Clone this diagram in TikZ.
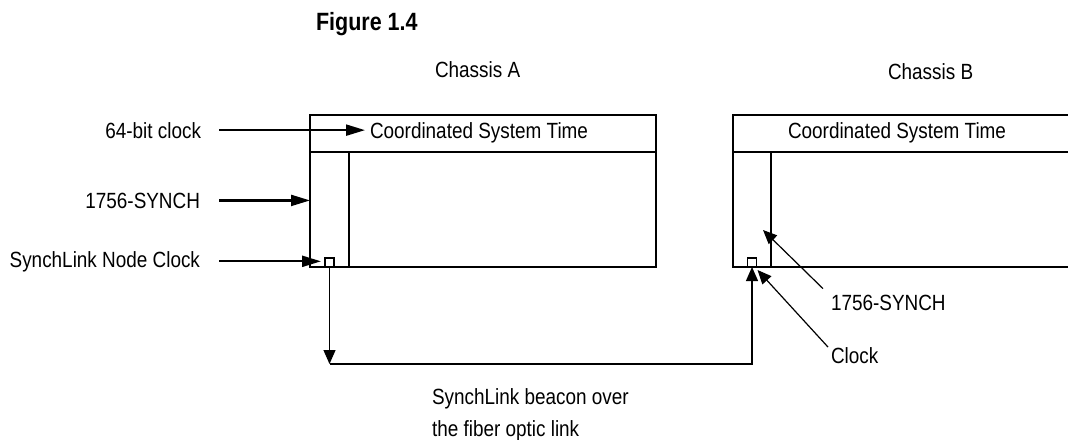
\documentclass[tikz,border=0pt]{standalone}
\usepackage{fontspec}
\setmainfont{Liberation Sans}[FakeStretch=0.86]
\usetikzlibrary{arrows.meta}
\begin{document}
\begin{tikzpicture}[x=1pt,y=-1pt,
  lbl/.style={inner sep=0pt, outer sep=0pt, font=\fontsize{22}{26}\selectfont},
  figlbl/.style={inner sep=0pt, outer sep=0pt, font=\bfseries\fontsize{25}{29}\selectfont},
  boxline/.style={line width=1.6pt},
  panel/.style={draw, line width=1.6pt, inner sep=0pt, outer sep=0pt, anchor=north west},
  bigarrow/.style={line width=2.2pt, -{Triangle[length=19pt,width=11pt]}},
  smallarrow/.style={line width=1.2pt, -{Triangle[length=14pt,width=12pt]}},
  sq/.style={draw, line width=1.2pt, minimum size=9pt, inner sep=0pt, outer sep=0pt, fill=white}]
\useasboundingbox (0,0) rectangle (1068,439);

% Chassis A
\node[panel, minimum width=346pt, minimum height=152pt] (boxA) at (310,115) {};
\draw[boxline] (310,152) -- (656,152);
\node[panel, minimum width=39pt, minimum height=115pt] (colA) at (310,152) {};
\node[sq] (sqA) at (329.5,262.5) {};

% Chassis B (runs past the right edge)
\draw[boxline] (1068,115) -- (733,115) -- (733,267) -- (1068,267);
\draw[boxline] (733,152) -- (1068,152);
\node[panel, minimum width=38pt, minimum height=115pt] (colB) at (733,152) {};
\node[sq] (sqB) at (752,262.5) {};

% Texts
\node[figlbl, anchor=base west] (fig) at (316,30) {Figure 1.4};
\node[lbl, anchor=base west] (chA) at (435,77) {Chassis A};
\node[lbl, anchor=base west] (chB) at (888,79) {Chassis B};
\node[lbl, anchor=base west] (cstA) at (370,138) {Coordinated System Time};
\node[lbl, anchor=base west] (cstB) at (788,138) {Coordinated System Time};
\node[lbl, anchor=base east] (l64) at (201,138) {64-bit clock};
\node[lbl, anchor=base east] (lsy) at (200,208) {1756-SYNCH};
\node[lbl, anchor=base east] (lnc) at (200,267) {SynchLink Node Clock};
\node[lbl, anchor=base west] (rsy) at (831,310) {1756-SYNCH};
\node[lbl, anchor=base west] (clk) at (831,363) {Clock};
\node[lbl, anchor=base west] (bc1) at (432,404) {SynchLink beacon over};
\node[lbl, anchor=base west] (bc2) at (432,436) {the fiber optic link};

% Left arrows
\draw[bigarrow] ([xshift=18pt]l64.east) -- ([xshift=-5pt]cstA.west |- l64.east);
\draw[bigarrow] ([xshift=19pt]lsy.east) -- (colA.west |- lsy.east);
\draw[bigarrow] ([xshift=19pt]lnc.east) -- ([xshift=-4pt]sqA.west |- lnc.east);

% SynchLink beacon link
\coordinate (linkY) at (0,364);
\draw[smallarrow] (sqA.south) -- (sqA.south |- linkY);
\draw[smallarrow] (sqA.south |- linkY) -- (sqB.south |- linkY) -- (sqB.south);

% Right pointers
\draw[smallarrow] ([shift={(-8,-6)}]rsy.north west) -- ([shift={(-8,-37)}]colB.south east);
\draw[smallarrow] ([shift={(-3,0)}]clk.north west) -- ([shift={(1,3)}]sqB.south east);
\end{tikzpicture}
\end{document}
